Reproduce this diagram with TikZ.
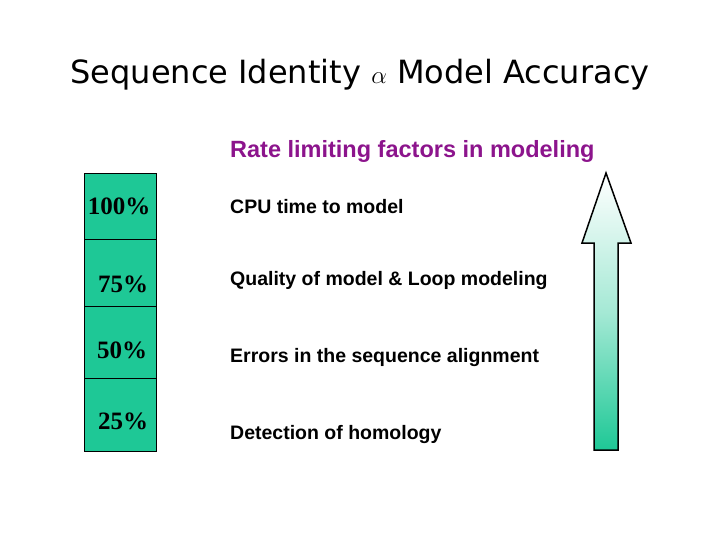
\documentclass[tikz,border=0pt]{standalone}
\usepackage{fontspec}
\setmainfont{Liberation Serif}
\newfontfamily\arialf{Liberation Sans}
\newfontfamily\titlef{DejaVu Sans}
\definecolor{tealg}{RGB}{30,200,150}
\definecolor{purp}{RGB}{140,20,140}
\begin{document}
\begin{tikzpicture}[x=1pt,y=-1pt,
  cell/.style={draw=black,line width=1.2pt,fill=tealg,minimum width=72pt,minimum height=#1,inner sep=0pt,anchor=north west},
  pct/.style={font=\fontsize{25}{30}\selectfont\bfseries},
  lbl/.style={font=\arialf\bfseries\fontsize{19.5}{24}\selectfont,anchor=west,inner sep=0pt}]
\useasboundingbox (0,0) rectangle (720,540);
\node (title) at (360,75) {\titlef\fontsize{32}{37}\selectfont Sequence Identity $\alpha$ Model Accuracy};
\node[lbl,text=purp,font=\arialf\bfseries\fontsize{23.5}{28}\selectfont] (sub) at (230,151) {Rate limiting factors in modeling};
\node[cell=66pt] (c1) at (84,173) {};
\node[cell=67pt] (c2) at (84,239) {};
\node[cell=72pt] (c3) at (84,306) {};
\node[cell=73pt] (c4) at (84,378) {};
\node[pct] (p1) at (119,206) {100\%};
\node[pct] (p2) at (123,284) {75\%};
\node[pct] (p3) at (122,350) {50\%};
\node[pct] (p4) at (123,421) {25\%};
\node[lbl] (l1) at (230,207) {CPU time to model};
\node[lbl] (l2) at (230,281) {Quality of model \& Loop modeling};
\node[lbl] (l3) at (230,357) {Errors in the sequence alignment};
\node[lbl] (l4) at (230,434) {Detection of homology};
\shade[bottom color=tealg,top color=white,middle color=tealg!40]
  (606,173) -- (631,243) -- (618,243) -- (618,450) -- (594,450) -- (594,243) -- (582,243) -- cycle;
\draw[line width=1.5pt,line join=miter]
  (606,173) -- (631,243) -- (618,243) -- (618,450) -- (594,450) -- (594,243) -- (582,243) -- cycle;
\end{tikzpicture}
\end{document}
